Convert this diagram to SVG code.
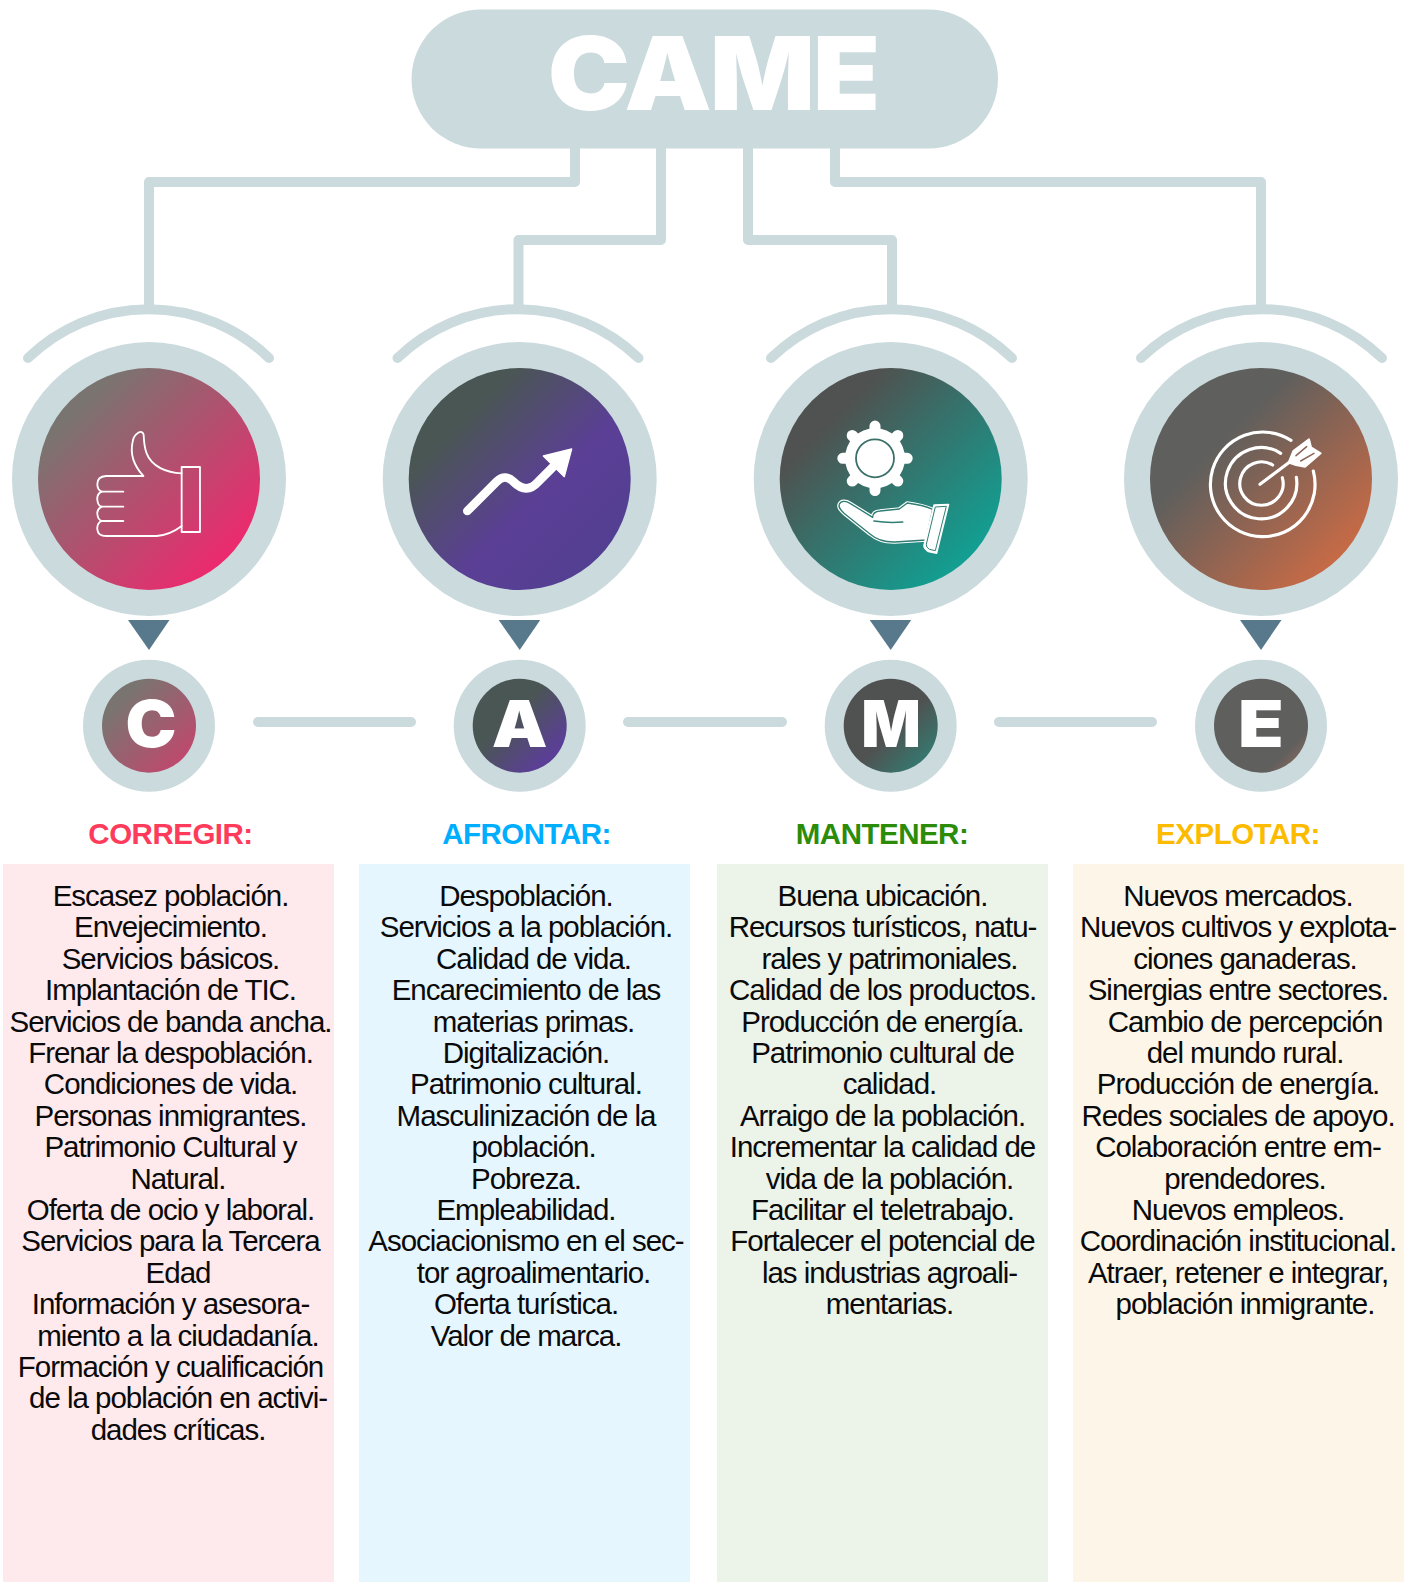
<svg xmlns="http://www.w3.org/2000/svg" width="1409" height="1582" viewBox="0 0 1409 1582">
<style>
.ln{fill:none;stroke:#cbdadd;stroke-width:10;stroke-linejoin:round;stroke-linecap:round}
.ring{fill:#cbdadd}
.tri{fill:#58788c}
.ic{fill:none;stroke:#fff;stroke-linecap:round;stroke-linejoin:round}
.big{font-family:Inter,"Liberation Sans",sans-serif;font-weight:900;fill:#fff;text-anchor:middle}
.hd{font-family:"Liberation Sans",Arial,sans-serif;font-weight:700;font-size:29.5px;letter-spacing:-.5px;text-anchor:middle}
.bd{font-family:"Liberation Sans",Arial,sans-serif;font-size:29.5px;letter-spacing:-1.03px;text-anchor:middle;fill:#0a0a0a}
</style>
<defs>
<linearGradient id="gc" x1=".15" y1=".15" x2=".85" y2=".85"><stop offset=".05" stop-color="#7a7470"/><stop offset="1" stop-color="#ec2a6e"/></linearGradient>
<linearGradient id="ga" x1=".15" y1=".15" x2=".85" y2=".85"><stop offset=".12" stop-color="#4a5653"/><stop offset=".62" stop-color="#5b3f96"/><stop offset="1" stop-color="#533f92"/></linearGradient>
<linearGradient id="gm" x1=".15" y1=".15" x2=".85" y2=".85"><stop offset=".12" stop-color="#4f5250"/><stop offset="1" stop-color="#129f92"/></linearGradient>
<linearGradient id="ge" x1=".15" y1=".15" x2=".85" y2=".85"><stop offset=".25" stop-color="#5f5f5d"/><stop offset="1" stop-color="#c66a46"/></linearGradient>
<linearGradient id="sc" x1=".15" y1=".15" x2=".85" y2=".85"><stop offset=".1" stop-color="#7a7470"/><stop offset="1" stop-color="#bd4a6e"/></linearGradient>
<linearGradient id="sa" x1=".15" y1=".15" x2=".85" y2=".85"><stop offset=".35" stop-color="#4a5653"/><stop offset=".95" stop-color="#5b3f96"/></linearGradient>
<linearGradient id="sm" x1=".15" y1=".15" x2=".85" y2=".85"><stop offset=".55" stop-color="#4f5250"/><stop offset="1" stop-color="#37766e"/></linearGradient>
<linearGradient id="se" x1=".15" y1=".15" x2=".85" y2=".85"><stop offset=".88" stop-color="#5f5f5d"/><stop offset="1" stop-color="#75645e"/></linearGradient>
</defs>

<g id="connectors">
<path class="ln" d="M575 148V182H149V305"/>
<path class="ln" d="M661 148V240H518.500V305"/>
<path class="ln" d="M748 148V240H892V305"/>
<path class="ln" d="M835 148V182H1261V305"/>
<path class="ln" d="M28 358A173 173 0 0 1 269 358"/>
<path class="ln" d="M397.500 358A173 173 0 0 1 638.500 358"/>
<path class="ln" d="M771 358A173 173 0 0 1 1012 358"/>
<path class="ln" d="M1141 358A173 173 0 0 1 1382 358"/>
<path class="ln" d="M258 722H411"/>
<path class="ln" d="M628 722H782"/>
<path class="ln" d="M999 722H1152"/>
</g>

<g id="title">
<rect x="411.500" y="9.500" width="586.500" height="139" rx="69.500" class="ring"/>
<text class="big" transform="translate(713 110) scale(1.08 1)" font-size="102" letter-spacing="-2">CAME</text>
</g>

<g id="node-c">
<circle cx="149" cy="479" r="137" class="ring"/>
<circle cx="149" cy="479" r="111" fill="url(#gc)"/>
<g transform="translate(0 290) scale(.3333)" class="ic" stroke-width="5.500">
<path d="M430 558H318Q292 560 292 582Q292 600 305 605Q290 612 292 630Q294 648 305 650Q290 658 292 672Q294 690 305 693Q290 700 292 718Q294 738 318 738H470Q510 735 545 708"/>
<path d="M305 605H370M305 650H370M305 693H370"/>
<path d="M430 558C400 525 390 490 398 455C402 430 428 415 431 435C432 450 432 470 440 490C455 530 500 548 545 550"/>
<rect x="545" y="531" width="55" height="195"/>
</g>
<path class="tri" d="M128 620H169.500L149 650Z"/>
<circle cx="149" cy="725.700" r="66" class="ring"/>
<circle cx="149" cy="725.700" r="47" fill="url(#sc)"/>
<text class="big" transform="translate(151 747) scale(1.05 1)" font-size="65">C</text>
</g>

<g id="node-a">
<circle cx="519.700" cy="479" r="137" class="ring"/>
<circle cx="519.700" cy="479" r="111" fill="url(#ga)"/>
<g transform="translate(450 430) scale(.3333)">
<path class="ic" stroke-width="26" d="M52 243L140 155Q165 130 190 155Q230 195 265 155L310 110"/>
<path d="M280 78L365 57L343 140Z" fill="#fff" stroke="#fff" stroke-width="4" stroke-linejoin="round"/>
</g>
<path class="tri" d="M498.700 620H540.200L519.700 650Z"/>
<circle cx="519.700" cy="725.700" r="66" class="ring"/>
<circle cx="519.700" cy="725.700" r="47" fill="url(#sa)"/>
<text class="big" transform="translate(519.700 747) scale(1.08 1)" font-size="65">A</text>
</g>

<g id="node-m">
<circle cx="890.700" cy="479" r="137" class="ring"/>
<circle cx="890.700" cy="479" r="111" fill="url(#gm)"/>
<g id="gear">
<circle cx="875" cy="458.300" r="30" fill="#fff"/>
<path class="ic" stroke-width="11" d="M875 426.100V490.500M842.800 458.300H907.200M852.200 435.500L897.800 481.100M897.800 435.500L852.200 481.100"/>
<circle cx="875" cy="458.300" r="19" fill="#fff" stroke="#3a7069" stroke-width="1.800"/>
</g>
<g transform="translate(820 410) scale(.3333)">
<path d="M58 283C62 272 78 272 90 280L158 322C158 310 166 304 180 303L238 297L262 279C285 282 315 288 338 298L318 390L225 396C190 397 165 385 150 372L72 310C62 300 54 292 58 283Z" fill="#fff" stroke="#fff" stroke-width="11" stroke-linejoin="round"/>
<path d="M58 283C62 272 78 272 90 280L158 322C158 310 166 304 180 303L238 297L262 279C285 282 315 288 338 298L318 390L225 396C190 397 165 385 150 372L72 310C62 300 54 292 58 283Z" fill="#fff" stroke="#2f7d74" stroke-width="4" stroke-linejoin="round"/>
<path d="M342 285L386 283L350 430L325 425Q310 415 312 405Z" fill="#fff" stroke="#fff" stroke-width="4" stroke-linejoin="round"/>
<path d="M346 291L379 289L346 422L328 418Q318 412 319 403Z" fill="#fff" stroke="#2f7d74" stroke-width="3" stroke-linejoin="round"/>
<path d="M162 333Q205 340 248 336" fill="none" stroke="#2f7d74" stroke-width="5" stroke-linecap="round"/>
</g>
<path class="tri" d="M869.700 620H911.200L890.700 650Z"/>
<circle cx="890.700" cy="725.700" r="66" class="ring"/>
<circle cx="890.700" cy="725.700" r="47" fill="url(#sm)"/>
<text class="big" transform="translate(891 747) scale(.96 1)" font-size="65">M</text>
</g>

<g id="node-e">
<circle cx="1261" cy="479" r="137" class="ring"/>
<circle cx="1261" cy="479" r="111" fill="url(#ge)"/>
<g transform="translate(1190 415) scale(.3333)" class="ic" stroke-width="9.500">
<path d="M370 168A157 157 0 1 1 303 76"/>
<path d="M319 187A107 107 0 1 1 272 115"/>
<path d="M277 188A65 65 0 1 1 248 150"/>
<path d="M210 208L310 133"/>
<path d="M296 143L310 108L357 73L363 97L392 115L345 155L318 150Z" fill="#fff" stroke-width="6"/>
<path d="M318 122L350 95M332 138L372 115" stroke="#8a6658" stroke-width="4.500"/>
</g>
<path class="tri" d="M1240 620H1281.500L1261 650Z"/>
<circle cx="1261" cy="725.700" r="66" class="ring"/>
<circle cx="1261" cy="725.700" r="47" fill="url(#se)"/>
<text class="big" transform="translate(1261 747) scale(1.15 1)" font-size="65">E</text>
</g>

<g id="panel-corregir">
<text class="hd" x="170.500" y="843.500" fill="#ff3b5c">CORREGIR:</text>
<rect x="3" y="864" width="331" height="718" fill="#fee9ec"/>
<text class="bd"><tspan x="170.500" y="906">Escasez población.</tspan><tspan x="170.500" y="937.400">Envejecimiento.</tspan><tspan x="170.500" y="968.800">Servicios básicos.</tspan><tspan x="170.500" y="1000.200">Implantación de TIC.</tspan><tspan x="170.500" y="1031.600">Servicios de banda ancha.</tspan><tspan x="170.500" y="1063">Frenar la despoblación.</tspan><tspan x="170.500" y="1094.400">Condiciones de vida.</tspan><tspan x="170.500" y="1125.800">Personas inmigrantes.</tspan><tspan x="170.500" y="1157.200">Patrimonio Cultural y</tspan><tspan x="178" y="1188.600">Natural.</tspan><tspan x="170.500" y="1220">Oferta de ocio y laboral.</tspan><tspan x="170.500" y="1251.400">Servicios para la Tercera</tspan><tspan x="178" y="1282.800">Edad</tspan><tspan x="170.500" y="1314.200">Información y asesora-</tspan><tspan x="178" y="1345.600">miento a la ciudadanía.</tspan><tspan x="170.500" y="1377">Formación y cualificación</tspan><tspan x="178" y="1408.400">de la población en activi-</tspan><tspan x="178" y="1439.800">dades críticas.</tspan></text>
</g>

<g id="panel-afrontar">
<text class="hd" x="526.500" y="843.500" fill="#00aeff">AFRONTAR:</text>
<rect x="359" y="864" width="331" height="718" fill="#e6f6fe"/>
<text class="bd"><tspan x="526" y="906">Despoblación.</tspan><tspan x="526" y="937.400">Servicios a la población.</tspan><tspan x="533.500" y="968.800">Calidad de vida.</tspan><tspan x="526" y="1000.200">Encarecimiento de las</tspan><tspan x="533.500" y="1031.600">materias primas.</tspan><tspan x="526" y="1063">Digitalización.</tspan><tspan x="526" y="1094.400">Patrimonio cultural.</tspan><tspan x="526" y="1125.800">Masculinización de la</tspan><tspan x="533.500" y="1157.200">población.</tspan><tspan x="526" y="1188.600">Pobreza.</tspan><tspan x="526" y="1220">Empleabilidad.</tspan><tspan x="526" y="1251.400">Asociacionismo en el sec-</tspan><tspan x="533.500" y="1282.800">tor agroalimentario.</tspan><tspan x="526" y="1314.200">Oferta turística.</tspan><tspan x="526" y="1345.600">Valor de marca.</tspan></text>
</g>

<g id="panel-mantener">
<text class="hd" x="882" y="843.500" fill="#2b8c0a">MANTENER:</text>
<rect x="717" y="864" width="331" height="718" fill="#ecf3e9"/>
<text class="bd"><tspan x="882.500" y="906">Buena ubicación.</tspan><tspan x="882.500" y="937.400">Recursos turísticos, natu-</tspan><tspan x="889.500" y="968.800">rales y patrimoniales.</tspan><tspan x="882.500" y="1000.200">Calidad de los productos.</tspan><tspan x="882.500" y="1031.600">Producción de energía.</tspan><tspan x="882.500" y="1063">Patrimonio cultural de</tspan><tspan x="889.500" y="1094.400">calidad.</tspan><tspan x="882.500" y="1125.800">Arraigo de la población.</tspan><tspan x="882.500" y="1157.200">Incrementar la calidad de</tspan><tspan x="889.500" y="1188.600">vida de la población.</tspan><tspan x="882.500" y="1220">Facilitar el teletrabajo.</tspan><tspan x="882.500" y="1251.400">Fortalecer el potencial de</tspan><tspan x="889.500" y="1282.800">las industrias agroali-</tspan><tspan x="889.500" y="1314.200">mentarias.</tspan></text>
</g>

<g id="panel-explotar">
<text class="hd" x="1238" y="843.500" fill="#fdbb00">EXPLOTAR:</text>
<rect x="1073" y="864" width="331" height="718" fill="#fdf6e8"/>
<text class="bd"><tspan x="1238" y="906">Nuevos mercados.</tspan><tspan x="1238" y="937.400">Nuevos cultivos y explota-</tspan><tspan x="1245" y="968.800">ciones ganaderas.</tspan><tspan x="1238" y="1000.200">Sinergias entre sectores.</tspan><tspan x="1245" y="1031.600">Cambio de percepción</tspan><tspan x="1245" y="1063">del mundo rural.</tspan><tspan x="1238" y="1094.400">Producción de energía.</tspan><tspan x="1238" y="1125.800">Redes sociales de apoyo.</tspan><tspan x="1238" y="1157.200">Colaboración entre em-</tspan><tspan x="1245" y="1188.600">prendedores.</tspan><tspan x="1238" y="1220">Nuevos empleos.</tspan><tspan x="1238" y="1251.400">Coordinación institucional.</tspan><tspan x="1238" y="1282.800">Atraer, retener e integrar,</tspan><tspan x="1245" y="1314.200">población inmigrante.</tspan></text>
</g>
</svg>
